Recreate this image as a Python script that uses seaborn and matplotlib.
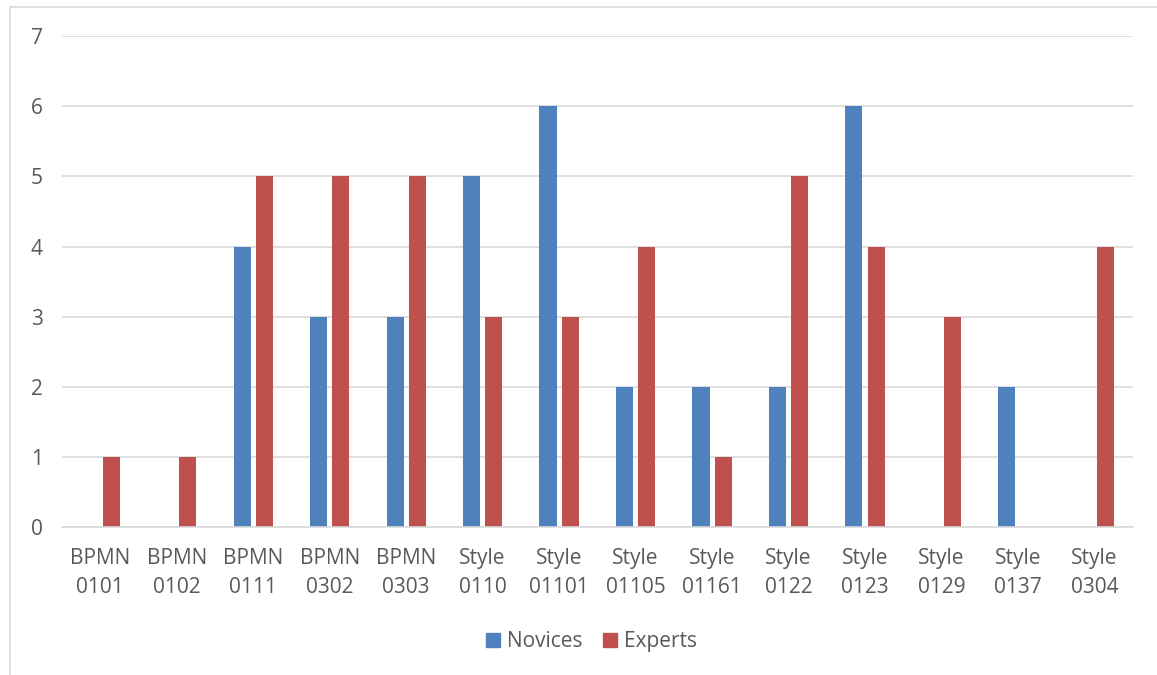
import matplotlib
matplotlib.use("Agg")
import matplotlib.pyplot as plt
import matplotlib.patches as mpatches
import seaborn as sns
import pandas as pd

# Chart data
categories = ["BPMN\n0101", "BPMN\n0102", "BPMN\n0111", "BPMN\n0302", "BPMN\n0303",
              "Style\n0110", "Style\n01101", "Style\n01105", "Style\n01161", "Style\n0122",
              "Style\n0123", "Style\n0129", "Style\n0137", "Style\n0304"]
novices = [0, 0, 4, 3, 3, 5, 6, 2, 2, 2, 6, 0, 2, 0]
experts = [1, 1, 5, 5, 5, 3, 3, 4, 1, 5, 4, 3, 0, 4]
series_names = ["Novices", "Experts"]
series_colors = ["#4F81BD", "#C0504D"]
y_ticks = [0, 1, 2, 3, 4, 5, 6, 7]

df = pd.DataFrame({
    "Category": categories * 2,
    "Group": [series_names[0]] * len(categories) + [series_names[1]] * len(categories),
    "Value": novices + experts,
})

sns.set_theme(style="white")
plt.rcParams["font.family"] = ["Open Sans", "DejaVu Sans"]
text_color = "#595959"
grid_color = "#D9D9D9"
font_size = 15

fig = plt.figure(figsize=(11.57, 6.75), dpi=100)
ax = fig.add_axes([0.0536, 0.219, 0.9254, 0.7274])

sns.barplot(data=df, x="Category", y="Value", hue="Group", order=categories,
            hue_order=series_names, palette=series_colors, width=0.58, gap=0.23,
            linewidth=0, saturation=1, ax=ax, legend=False)

ax.set_ylim(0, 7)
ax.set_xlim(-0.5, len(categories) - 0.5)
ax.set_yticks(y_ticks)
ax.yaxis.grid(True, color=grid_color, linewidth=1.2)
ax.set_axisbelow(True)
for side in ["top", "right", "left"]:
    ax.spines[side].set_visible(False)
ax.spines["bottom"].set_color(grid_color)
ax.spines["bottom"].set_linewidth(1.2)
ax.set_xlabel("")
ax.set_ylabel("")
ax.tick_params(axis="both", length=0, colors=text_color, labelsize=font_size)
ax.tick_params(axis="x", pad=15)
ax.tick_params(axis="y", pad=14)
for lbl in ax.get_xticklabels():
    lbl.set_linespacing(1.5)

handles = [mpatches.Patch(color=c, label=n) for c, n in zip(series_colors, series_names)]
fig.legend(handles=handles, loc="center", bbox_to_anchor=(0.511, 0.049), ncol=2,
           frameon=False, fontsize=font_size, labelcolor=text_color, handlelength=0.7,
           handleheight=0.7, handletextpad=0.3, columnspacing=1.0)

# Chart-area border
fig.patches.append(mpatches.Rectangle((10 / 1157, -0.05), 1.2, 1 - 7 / 675 + 0.05,
                                      transform=fig.transFigure, fill=False,
                                      edgecolor=grid_color, linewidth=1.2))

fig.savefig("out.png", dpi=100)
